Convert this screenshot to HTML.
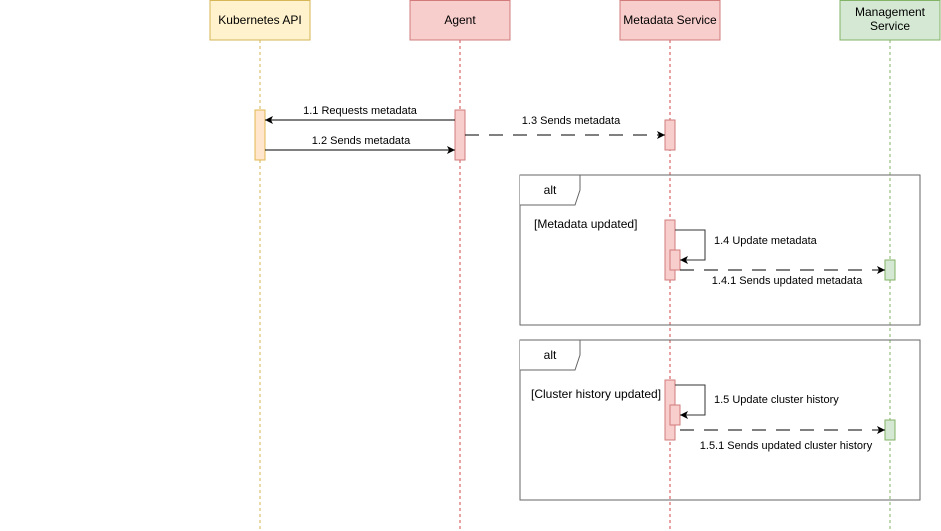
<!DOCTYPE html>
<html><head><style>html,body{margin:0;padding:0;background:#fff;}svg{display:block;font-family:"Liberation Sans",sans-serif;}</style></head>
<body>
<svg width="941" height="531" viewBox="0 0 941 531" xmlns="http://www.w3.org/2000/svg">
<defs><marker id="a" markerWidth="10" markerHeight="10" refX="9" refY="5" orient="auto" markerUnits="userSpaceOnUse"><path d="M1,1 L9,5 L1,9 L3,5 Z" fill="#000"/></marker></defs>
<!-- lifelines -->
<line x1="260" y1="40" x2="260" y2="531" stroke="#d6b656" stroke-dasharray="3,3"/>
<line x1="460" y1="40" x2="460" y2="531" stroke="#d14a4a" stroke-dasharray="3,3"/>
<line x1="670" y1="40" x2="670" y2="531" stroke="#d14a4a" stroke-dasharray="3,3"/>
<line x1="890" y1="40" x2="890" y2="531" stroke="#82b366" stroke-dasharray="3,3"/>
<!-- heads -->
<rect x="210" y="0.5" width="100" height="39.5" fill="#fff2cc" stroke="#d6b656"/>
<text x="260" y="24" font-size="12" text-anchor="middle">Kubernetes API</text>
<rect x="410" y="0.5" width="100" height="39.5" fill="#f8cecc" stroke="#d17b7b"/>
<text x="460" y="24" font-size="12" text-anchor="middle">Agent</text>
<rect x="620" y="0.5" width="100" height="39.5" fill="#f8cecc" stroke="#d17b7b"/>
<text x="670" y="24" font-size="12" text-anchor="middle">Metadata Service</text>
<rect x="840" y="0.5" width="100" height="39.5" fill="#d5e8d4" stroke="#82b366"/>
<text x="890" y="16" font-size="12" text-anchor="middle">Management</text>
<text x="890" y="30" font-size="12" text-anchor="middle">Service</text>
<!-- frames -->
<rect x="520" y="175" width="400" height="150" fill="none" stroke="#666"/>
<path d="M520,175 H580 V190 L575,205 H520" fill="#fff" stroke="#666"/>
<text x="550" y="194" font-size="12" text-anchor="middle">alt</text>
<text x="534" y="228" font-size="12">[Metadata updated]</text>
<rect x="520" y="340" width="400" height="160" fill="none" stroke="#666"/>
<path d="M520,340 H580 V355 L575,370 H520" fill="#fff" stroke="#666"/>
<text x="550" y="359" font-size="12" text-anchor="middle">alt</text>
<text x="531" y="398" font-size="12">[Cluster history updated]</text>
<!-- activations -->
<rect x="255" y="110" width="10" height="50" fill="#ffe6cc" stroke="#e0b850"/>
<rect x="455" y="110" width="10" height="50" fill="#f8cecc" stroke="#d17b7b"/>
<rect x="665" y="120" width="10" height="30" fill="#f8cecc" stroke="#d17b7b"/>
<!-- messages top -->
<line x1="455" y1="120" x2="265" y2="120" stroke="#000" marker-end="url(#a)"/>
<text x="360" y="114" font-size="11" text-anchor="middle">1.1 Requests metadata</text>
<line x1="265" y1="150" x2="455" y2="150" stroke="#000" marker-end="url(#a)"/>
<text x="361" y="144" font-size="11" text-anchor="middle">1.2 Sends metadata</text>
<line x1="465" y1="135" x2="665" y2="135" stroke="#000" stroke-dasharray="14,10" marker-end="url(#a)"/>
<text x="571" y="124" font-size="11" text-anchor="middle">1.3 Sends metadata</text>
<!-- frame 1 -->
<rect x="665" y="220" width="10" height="60" fill="#f8cecc" stroke="#d17b7b"/>
<rect x="670" y="250" width="10" height="20" fill="#f8cecc" stroke="#d17b7b"/>
<path d="M675,230 H705 V260 H680" fill="none" stroke="#333" marker-end="url(#a)"/>
<text x="714" y="244" font-size="11">1.4 Update metadata</text>
<rect x="885" y="260" width="10" height="20" fill="#d5e8d4" stroke="#82b366"/>
<line x1="680" y1="270" x2="885" y2="270" stroke="#000" stroke-dasharray="14,10" marker-end="url(#a)"/>
<text x="787" y="284" font-size="11" text-anchor="middle">1.4.1 Sends updated metadata</text>
<!-- frame 2 -->
<rect x="665" y="380" width="10" height="60" fill="#f8cecc" stroke="#d17b7b"/>
<rect x="670" y="405" width="10" height="20" fill="#f8cecc" stroke="#d17b7b"/>
<path d="M675,385 H705 V415 H680" fill="none" stroke="#333" marker-end="url(#a)"/>
<text x="714" y="403" font-size="11">1.5 Update cluster history</text>
<rect x="885" y="420" width="10" height="20" fill="#d5e8d4" stroke="#82b366"/>
<line x1="680" y1="430" x2="885" y2="430" stroke="#000" stroke-dasharray="14,10" marker-end="url(#a)"/>
<text x="786" y="449" font-size="11" text-anchor="middle">1.5.1 Sends updated cluster history</text>
</svg>
</body></html>
